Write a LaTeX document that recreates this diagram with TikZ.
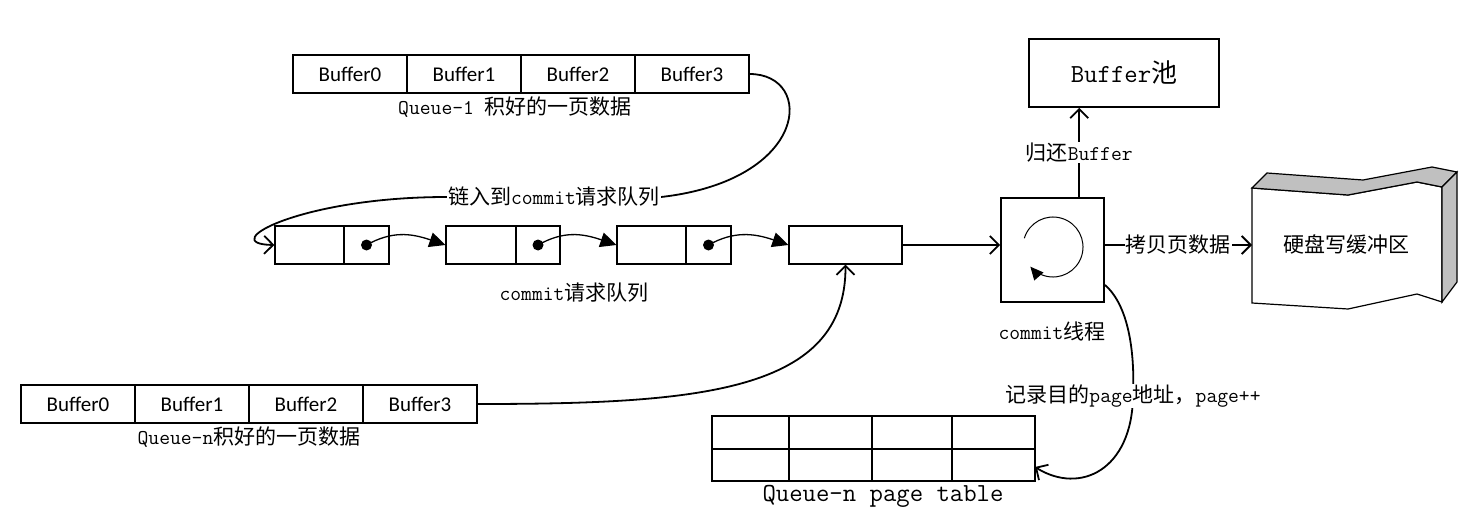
\documentclass[tikz,border=0pt]{standalone}
\usepackage{fontspec}
\newfontfamily\cjk{Noto Sans CJK SC}
\newfontfamily\calfont{Carlito}
\newcommand\zh[1]{{\cjk #1}}
\usetikzlibrary{arrows.meta,calc}
\definecolor{diskgray}{HTML}{C0C0C0}
\begin{document}
\begin{tikzpicture}[x=1pt,y=-1pt,
  box/.style={draw,line width=1.2pt,inner sep=0pt,minimum height=38pt},
  buf/.style={box,minimum width=114pt,font=\calfont\fontsize{21}{24}\selectfont},
  lab/.style={font=\ttfamily\fontsize{21}{24}\selectfont,inner sep=1pt},
  big/.style={font=\ttfamily\fontsize{26}{30}\selectfont,inner sep=1pt},
  con/.style={line width=1.8pt},
  arr/.style={con,-{Straight Barb[length=9pt,width=18pt,line width=1.8pt]}},
  tri/.style={line width=1.3pt,-{Triangle[length=16pt,width=15pt]}},
]
\useasboundingbox (0,0) rectangle (1474,524);

% top buffers
\foreach \i/\x in {0/350,1/464,2/578,3/692}
  \node[buf] (qa\i) at (\x,74) {Buffer\i};
\node[lab] (ql1) at (515,107) {Queue-1 \zh{积好的一页数据}};

% bottom buffers
\foreach \i/\x in {0/78,1/192,2/306,3/420}
  \node[buf] (qb\i) at (\x,404) {Buffer\i};
\node[lab] (qln) at (249,437) {Queue-n\zh{积好的一页数据}};

% queue nodes
\node[box,minimum width=69pt] (n1L) at (309.5,245) {};
\node[box,minimum width=45pt] (n1R) at (366.5,245) {};
\node[box,minimum width=70pt] (n2L) at (481,245) {};
\node[box,minimum width=44pt] (n2R) at (538,245) {};
\node[box,minimum width=69pt] (n3L) at (651.5,245) {};
\node[box,minimum width=45pt] (n3R) at (708.5,245) {};
\node[box,minimum width=113pt] (n4) at (845.5,245) {};
\foreach \n in {n1R,n2R,n3R} \fill (\n.center) circle (5.5);
\draw[tri] (n1R.center) .. controls +(25,-14) and +(-35,-12) .. (n2L.west);
\draw[tri] (n2R.center) .. controls +(25,-14) and +(-35,-12) .. (n3L.west);
\draw[tri] (n3R.center) .. controls +(25,-14) and +(-35,-12) .. (n4.west);
\node[lab] (ql) at (574,293) {commit\zh{请求队列}};

% top link
\node[lab] (lk) at (554,197) {\zh{链入到}commit\zh{请求队列}};
\draw[con] (qa3.east) .. controls (815,74) and (810,180) .. (lk.east);
\draw[arr] (lk.west) .. controls (300,197) and (215,244) .. (n1L.west);

% bottom link
\draw[arr] (qb3.east) .. controls (700,404) and (846,392) .. (n4.south);

% commit thread
\node[draw,line width=1.8pt,minimum width=103pt,minimum height=104pt] (cb) at (1052.5,250) {};
\coordinate (cc) at (1053,247);
\draw[line width=1pt,-{Triangle[length=13pt,width=12pt]}] ($(cc)+(163:30pt)$) arc[start angle=163,end angle=-139,radius=30pt];
\node[lab] (ct) at (1052,331) {commit\zh{线程}};
\draw[arr] (n4.east) -- (n4.east -| cb.west);

% buffer pool
\node[draw,line width=1.8pt,minimum width=190pt,minimum height=68pt,big] (bp) at (1124,73) {Buffer\zh{池}};
\coordinate (cbt) at ($(cb.north west)!0.755!(cb.north east)$);
\draw[arr] (cbt) -- (cbt |- bp.south) node[midway,lab,fill=white] {\zh{归还}Buffer};

% disk buffer
\draw[line width=1.2pt,fill=white] (1252,188) -- (1348,195) -- (1417,182) -- (1442,187) -- (1442,302) -- (1417,294) -- (1348,309) -- (1252,303) -- cycle;
\draw[line width=1.2pt,fill=diskgray] (1252,188) -- (1267,173) -- (1363,180) -- (1432,167) -- (1457,172) -- (1442,187) -- (1417,182) -- (1348,195) -- cycle;
\draw[line width=1.2pt,fill=diskgray] (1442,187) -- (1457,172) -- (1457,282) -- (1442,302) -- cycle;
\node[lab] (disk) at (1346,244) {\zh{硬盘写缓冲区}};
\coordinate (dl) at (1252,245);
\draw[arr] (cb.east |- n4.east) -- (dl) node[midway,lab,fill=white] {\zh{拷贝页数据}};

% page table
\draw[line width=1.5pt] (712,416) rectangle (1035,481);
\draw[line width=2.8pt] (712,449) -- (1035,449);
\foreach \x in {789,872,952} \draw[line width=1.5pt] (\x,416) -- (\x,481);
\coordinate (tbr) at (1035,467);
\node[big] (tl) at (883,496) {Queue-n page table};

% record curve
\coordinate (cbr) at ($(cb.south east)!0.17!(cb.north east)$);
\coordinate (recc) at (1133,396);
\draw[arr] (cbr) .. controls (1128,305) and (1135,350) .. (recc) .. controls (1132,470) and (1080,495) .. (tbr);
\node[lab,fill=white] (rec) at (recc) {\zh{记录目的}page\zh{地址，}page++};
\end{tikzpicture}
\end{document}
